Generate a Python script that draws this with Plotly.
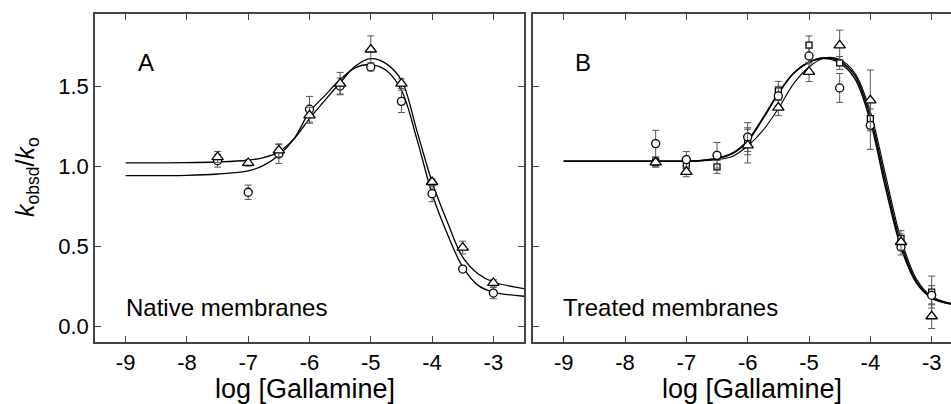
import plotly.graph_objects as go

# ---------------- data ----------------
x_pts = [-7.5, -7.0, -6.5, -6.0, -5.5, -5.0, -4.5, -4.0, -3.5, -3.0]

# Panel A (native membranes)
a_tri_y = [1.056, 1.019, 1.098, 1.317, 1.515, 1.728, 1.515, 0.900, 0.490, 0.269]
a_tri_e = [0.035, 0.020, 0.040, 0.050, 0.070, 0.085, 0.030, 0.020, 0.040, 0.020]
a_cir_y = [1.033, 0.836, 1.075, 1.355, 1.500, 1.619, 1.404, 0.827, 0.356, 0.206]
a_cir_e = [0.040, 0.045, 0.060, 0.080, 0.050, 0.025, 0.070, 0.050, 0.015, 0.035]

# Panel B (treated membranes)
b_cir_y = [1.140, 1.040, 1.067, 1.181, 1.438, 1.688, 1.488, 1.254, 0.494, 0.192]
b_cir_e = [0.083, 0.050, 0.080, 0.090, 0.060, 0.050, 0.090, 0.150, 0.050, 0.060]
b_sq_y = [1.025, 1.005, 0.994, 1.150, 1.469, 1.756, 1.644, 1.296, 0.546, 0.212]
b_sq_e = [0.030, 0.030, 0.040, 0.080, 0.060, 0.057, 0.040, 0.060, 0.050, 0.100]
b_tri_y = [1.023, 0.963, None, 1.129, 1.365, 1.588, 1.754, 1.410, 0.525, 0.061]
b_tri_e = [0.030, 0.030, 0.0, 0.110, 0.050, 0.060, 0.095, 0.190, 0.050, 0.077]

# fitted curves
curve_x_a = [-9.0, -8.0, -7.5, -7.0, -6.75, -6.5, -6.25, -6.0, -5.75, -5.5, -5.25,
             -5.0, -4.75, -4.5, -4.25, -4.0, -3.75, -3.5, -3.25, -3.0, -2.5]
a_tri_fit = [1.020, 1.021, 1.025, 1.036, 1.052, 1.088, 1.171, 1.296, 1.410, 1.520, 1.625,
             1.671, 1.640, 1.536, 1.223, 0.900, 0.650, 0.431, 0.327, 0.275, 0.234]
a_cir_fit = [0.940, 0.942, 0.950, 0.969, 1.004, 1.067, 1.171, 1.338, 1.440, 1.540, 1.615,
             1.634, 1.598, 1.473, 1.171, 0.827, 0.575, 0.369, 0.254, 0.212, 0.186]

curve_x_b = [-9.0, -8.0, -7.5, -7.0, -6.75, -6.5, -6.25, -6.0, -5.75, -5.5, -5.25,
             -5.0, -4.75, -4.5, -4.25, -4.0, -3.75, -3.5, -3.25, -3.0, -2.5]
b_sq_fit = [1.030, 1.030, 1.030, 1.030, 1.035, 1.046, 1.077, 1.155, 1.296, 1.452, 1.581,
            1.650, 1.677, 1.656, 1.565, 1.310, 0.900, 0.515, 0.280, 0.178, 0.125]
b_cir_fit = [1.030, 1.030, 1.030, 1.030, 1.035, 1.048, 1.080, 1.160, 1.300, 1.455, 1.580,
             1.648, 1.672, 1.645, 1.545, 1.280, 0.860, 0.490, 0.270, 0.175, 0.125]
b_tri_fit = [1.030, 1.030, 1.030, 1.030, 1.033, 1.040, 1.060, 1.125, 1.223, 1.359, 1.515,
             1.619, 1.675, 1.665, 1.580, 1.340, 0.940, 0.545, 0.295, 0.185, 0.128]

x_ticks = [-9, -8, -7, -6, -5, -4, -3]
x_tick_text = ["-9", "-8", "-7", "-6", "-5", "-4", "-3"]
y_ticks = [0.0, 0.5, 1.0, 1.5]
y_tick_text = ["0.0", "0.5", "1.0", "1.5"]

# ---------------- figure ----------------
FONT = "Liberation Sans, Arial, sans-serif"
AX = "#444444"
fig = go.Figure()

def curve(xs, ys, xa, ya, w=1.3):
    fig.add_trace(go.Scatter(x=xs, y=ys, mode="lines", xaxis=xa, yaxis=ya,
                             line=dict(color="black", width=w, shape="spline", smoothing=1.0),
                             showlegend=False, hoverinfo="skip"))

def pts(ys, es, sym, size, xa, ya):
    xs = [x for x, y in zip(x_pts, ys) if y is not None]
    yy = [y for y in ys if y is not None]
    ee = [e for y, e in zip(ys, es) if y is not None]
    fig.add_trace(go.Scatter(x=xs, y=yy, mode="markers", xaxis=xa, yaxis=ya,
                             marker=dict(symbol=sym, size=size, color="white",
                                         line=dict(color="black", width=1.3)),
                             error_y=dict(type="data", array=ee, color="#555555",
                                          thickness=1, width=3.5),
                             showlegend=False))

curve(curve_x_a, a_tri_fit, "x", "y")
curve(curve_x_a, a_cir_fit, "x", "y")
curve(curve_x_b, b_sq_fit, "x2", "y2", 1.5)
curve(curve_x_b, b_cir_fit, "x2", "y2", 1.5)
curve(curve_x_b, b_tri_fit, "x2", "y2", 1.1)

pts(a_cir_y, a_cir_e, "circle", 8, "x", "y")
pts(a_tri_y, a_tri_e, "triangle-up", 10, "x", "y")
pts(b_sq_y, b_sq_e, "square", 6, "x2", "y2")
pts(b_cir_y, b_cir_e, "circle", 8, "x2", "y2")
pts(b_tri_y, b_tri_e, "triangle-up", 10, "x2", "y2")

L, R, T, B = 95, 0, 14, 62
W, H = 951, 404
pw = W - L - R
dA = [0, (524 - L) / pw]
dB = [(533 - L) / pw, 1.0]

axis_common = dict(showline=True, linecolor=AX, linewidth=1.5, ticks="inside",
                   ticklen=6, tickwidth=1.2, tickcolor=AX, showgrid=False,
                   zeroline=False, tickfont=dict(family=FONT, size=22, color="black"))

fig.update_layout(
    width=W, height=H, margin=dict(l=L, r=R, t=T, b=B),
    paper_bgcolor="white", plot_bgcolor="white",
    xaxis=dict(domain=dA, range=[-9.5, -2.5], tickvals=x_ticks, ticktext=x_tick_text,
               mirror="ticks", anchor="y", **axis_common),
    yaxis=dict(domain=[0, 1], range=[-0.10, 1.95], tickvals=y_ticks, ticktext=y_tick_text,
               mirror="ticks", anchor="x", **axis_common),
    xaxis2=dict(domain=dB, range=[-9.5, -2.685], tickvals=x_ticks, ticktext=x_tick_text,
                mirror="ticks", anchor="y2", **axis_common),
    yaxis2=dict(domain=[0, 1], range=[-0.10, 1.95], tickvals=y_ticks,
                showticklabels=False, mirror=False, anchor="x2", **axis_common),
)

ann_font = dict(family=FONT, size=24, color="black")
fig.add_annotation(x=-8.67, y=1.645, xref="x", yref="y", text="A", showarrow=False,
                   font=ann_font, xanchor="center", yanchor="middle")
fig.add_annotation(x=-8.68, y=1.645, xref="x2", yref="y2", text="B", showarrow=False,
                   font=ann_font, xanchor="center", yanchor="middle")
fig.add_annotation(x=-9.02, y=0.114, xref="x", yref="y", text="Native membranes",
                   showarrow=False, font=ann_font, xanchor="left", yanchor="middle")
fig.add_annotation(x=-9.04, y=0.114, xref="x2", yref="y2", text="Treated membranes",
                   showarrow=False, font=ann_font, xanchor="left", yanchor="middle")

title_font = dict(family=FONT, size=27, color="black")
fig.add_annotation(x=-6.07, y=-0.092, xref="x", yref="paper", text="log [Gallamine]",
                   showarrow=False, font=title_font, xanchor="center", yanchor="top")
fig.add_annotation(x=-5.93, y=-0.092, xref="x2", yref="paper", text="log [Gallamine]",
                   showarrow=False, font=title_font, xanchor="center", yanchor="top")
fig.add_annotation(x=(27 - L) / pw, y=0.503, xref="paper", yref="paper",
                   text="<i>k</i><sub>obsd</sub>/<i>k</i><sub>o</sub>", textangle=-90,
                   showarrow=False, font=dict(family=FONT, size=25, color="black"),
                   xanchor="center", yanchor="middle")

fig.write_html("out.html")
